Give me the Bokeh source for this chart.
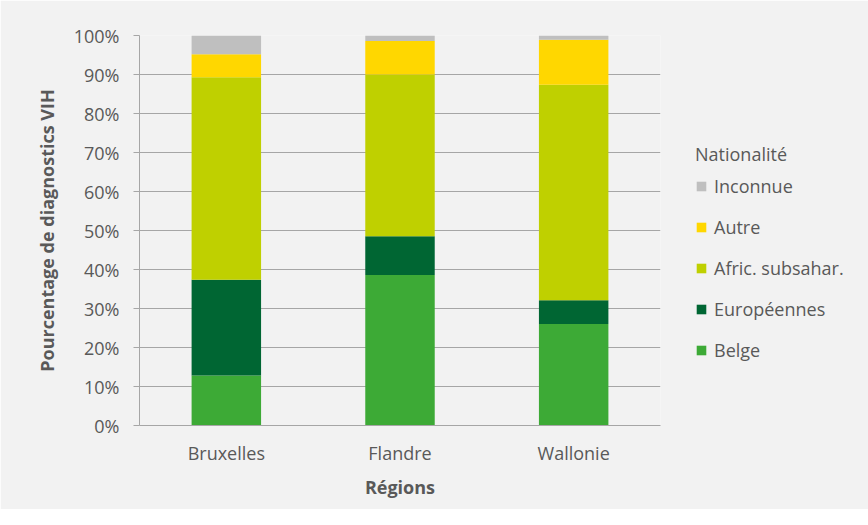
from bokeh.plotting import figure
from bokeh.models import (ColumnDataSource, FixedTicker, PrintfTickFormatter,
                          Legend, LegendItem, Range1d, FactorRange)
from bokeh.embed import file_html
from bokeh.resources import INLINE

regions = ["Bruxelles", "Flandre", "Wallonie"]
series = ["Belge", "Européennes", "Afric. subsahar.", "Autre", "Inconnue"]
belge = [12.8, 38.6, 26.0]
europeennes = [24.6, 9.9, 6.1]
afric = [51.9, 41.5, 55.3]
autre = [5.9, 8.6, 11.5]
inconnue = [4.8, 1.4, 1.1]
colors = ["#3DAA36", "#006633", "#BFD000", "#FFD700", "#BFBFBF"]
y_ticks = [0, 10, 20, 30, 40, 50, 60, 70, 80, 90, 100]

FONT = "Open Sans"
TXT = "#595959"

source = ColumnDataSource(dict(region=regions, Belge=belge, **{"Européennes": europeennes},
                               **{"Afric. subsahar.": afric}, Autre=autre, Inconnue=inconnue))

p = figure(x_range=FactorRange(*regions, range_padding=0), y_range=Range1d(0, 100),
           width=852, height=509, frame_width=521, frame_height=390,
           min_border_left=139, min_border_right=192, min_border_top=35, min_border_bottom=84,
           output_backend="svg", toolbar_location=None)
p.x_range.range_padding = 0

renderers = p.vbar_stack(series, x="region", width=0.4, source=source,
                         color=colors, line_color=None)

p.background_fill_color = "#F2F2F2"
p.border_fill_color = "#F2F2F2"
p.outline_line_color = None

p.xgrid.grid_line_color = None
p.ygrid.grid_line_color = "#A6A6A6"
p.ygrid.grid_line_width = 1

p.yaxis.ticker = FixedTicker(ticks=y_ticks)
p.yaxis.formatter = PrintfTickFormatter(format="%d%%")
p.yaxis.axis_line_color = "#A6A6A6"
p.yaxis.major_tick_line_color = "#A6A6A6"
p.yaxis.major_tick_out = 6
p.yaxis.major_tick_in = 0
p.yaxis.minor_tick_line_color = None
p.yaxis.major_label_standoff = 14
p.yaxis.axis_label = "Pourcentage de diagnostics VIH"
p.yaxis.axis_label_standoff = 12

p.xaxis.axis_line_color = "#A6A6A6"
p.xaxis.major_tick_line_color = None
p.xaxis.minor_tick_line_color = None
p.xaxis.major_label_standoff = 9
p.xaxis.axis_label = "Régions"
p.xaxis.axis_label_standoff = 7

for ax in (p.xaxis[0], p.yaxis[0]):
    ax.major_label_text_font = FONT
    ax.major_label_text_font_size = "18px"
    ax.major_label_text_color = TXT
    ax.axis_label_text_font = FONT
    ax.axis_label_text_font_size = "18px"
    ax.axis_label_text_font_style = "bold"
    ax.axis_label_text_color = TXT

items = [LegendItem(label=s, renderers=[r]) for s, r in zip(series, renderers)][::-1]
legend = Legend(items=items, location=(35, 63), title="Nationalité",
                background_fill_alpha=0, border_line_color=None,
                padding=0, margin=0, spacing=17,
                glyph_width=12, glyph_height=12, label_height=20, label_standoff=7,
                label_text_font=FONT, label_text_font_size="18px", label_text_color=TXT,
                title_text_font=FONT, title_text_font_size="18px", title_text_color=TXT,
                title_text_font_style="normal", title_standoff=8)
p.add_layout(legend, "right")

open("out.html", "w").write(file_html(p, INLINE))
